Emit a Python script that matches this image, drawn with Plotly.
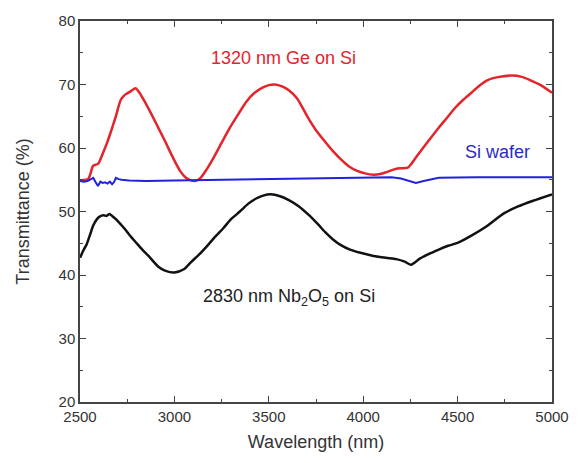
import plotly.graph_objects as go

# Wavelength grid (nm) and transmittance (%) for each sample
ge_wl = [2500, 2530, 2543, 2556, 2569, 2595, 2612, 2630, 2648, 2664, 2690, 2716, 2735, 2750, 2772, 2794,
         2815, 2837, 2870, 2906, 2950, 2992, 3030, 3061, 3087, 3110, 3139, 3170, 3208, 3250, 3294,
         3340, 3381, 3425, 3467, 3500, 3533, 3570, 3606, 3650, 3709, 3750, 3795, 3840, 3882, 3925, 3968,
         4010, 4054, 4090, 4123, 4160, 4192, 4236, 4255, 4279, 4340, 4400, 4445, 4486, 4530, 4573, 4615,
         4659, 4720, 4788, 4840, 4883, 4940, 5000]
ge_t = [54.9, 55.0, 55.1, 56.0, 57.2, 57.5, 58.5, 59.8, 61.2, 62.6, 65.0, 67.6, 68.3, 68.6, 69.0, 69.4,
        68.7, 67.6, 65.8, 63.7, 61.1, 58.5, 56.4, 55.3, 54.9, 54.8, 55.3, 56.6, 58.5, 60.8, 63.2,
        65.4, 67.3, 68.7, 69.5, 69.9, 70.0, 69.7, 69.1, 67.8, 64.7, 62.8, 61.1, 59.5, 58.2, 57.1, 56.4,
        56.0, 55.8, 55.9, 56.2, 56.6, 56.8, 56.9, 57.5, 58.5, 60.9, 63.2, 64.8, 66.3, 67.6, 68.7, 69.8,
        70.7, 71.2, 71.4, 71.2, 70.7, 69.9, 68.7]

si_wl = [2500, 2520, 2540, 2555, 2570, 2583, 2595, 2608, 2620, 2633, 2645, 2658, 2670, 2680, 2690,
         2705, 2720, 2760, 2850, 3000, 3200, 3500, 3800, 4000, 4150, 4200, 4240, 4279, 4320, 4400,
         4600, 4800, 5000]
si_t = [54.8, 54.7, 54.8, 55.1, 55.3, 54.6, 54.0, 54.7, 54.5, 54.6, 54.4, 54.7, 54.3, 54.6, 55.3,
        55.1, 55.0, 54.9, 54.8, 54.9, 55.0, 55.1, 55.2, 55.3, 55.4, 55.2, 54.8, 54.5, 54.8, 55.3,
        55.4, 55.4, 55.4]

nb_wl = [2500, 2520, 2535, 2555, 2570, 2590, 2604, 2625, 2640, 2656, 2670, 2690, 2715, 2742, 2762,
         2800, 2830, 2863, 2915, 2950, 3000, 3050, 3087, 3130, 3174, 3215, 3260, 3300, 3347, 3390,
         3433, 3470, 3510, 3560, 3606, 3660, 3710, 3760, 3800, 3840, 3882, 3930, 3985, 4054, 4120, 4175,
         4220, 4253, 4275, 4296, 4340, 4400, 4450, 4503, 4573, 4650, 4745, 4820, 4900, 5000]
nb_t = [42.7, 44.0, 44.8, 46.5, 47.8, 48.8, 49.2, 49.4, 49.3, 49.6, 49.3, 48.8, 48.0, 47.1, 46.3,
        45.0, 44.0, 43.0, 41.3, 40.7, 40.4, 40.9, 42.0, 43.2, 44.6, 46.0, 47.4, 48.8, 50.0, 51.2,
        52.05, 52.5, 52.7, 52.4, 51.8, 50.8, 49.5, 48.0, 46.7, 45.6, 44.7, 44.0, 43.5, 43.0, 42.7, 42.5,
        42.1, 41.6, 42.0, 42.5, 43.2, 44.0, 44.6, 45.1, 46.2, 47.6, 49.7, 50.8, 51.7, 52.7]

x_ticks = [2500, 3000, 3500, 4000, 4500, 5000]
y_ticks = [20, 30, 40, 50, 60, 70, 80]

FONT = "Liberation Sans, Arial, sans-serif"
AXIS_COLOR = "#444444"
TEXT_COLOR = "#333333"

fig = go.Figure()
fig.add_trace(go.Scatter(x=ge_wl, y=ge_t, mode="lines", line=dict(color="#e3242b", width=2.5,
                         shape="spline", smoothing=0.7), name="1320 nm Ge on Si"))
fig.add_trace(go.Scatter(x=si_wl, y=si_t, mode="lines", line=dict(color="#2222dd", width=2),
                         name="Si wafer"))
fig.add_trace(go.Scatter(x=nb_wl, y=nb_t, mode="lines", line=dict(color="#111111", width=2.5,
                         shape="spline", smoothing=0.7), name="2830 nm Nb2O5 on Si"))

fig.add_annotation(x=3578, y=74.2, text="1320 nm Ge on Si", showarrow=False,
                   font=dict(family=FONT, size=18, color="#e3242b"))
fig.add_annotation(x=4710, y=59.3, text="Si wafer", showarrow=False,
                   font=dict(family=FONT, size=18, color="#2a2ac4"))
fig.add_annotation(x=3609, y=36.5, text="2830 nm Nb<sub>2</sub>O<sub>5</sub> on Si", showarrow=False,
                   font=dict(family=FONT, size=18, color="#222222"))

axis_common = dict(showline=True, linecolor=AXIS_COLOR, linewidth=1.5, mirror="ticks",
                   ticks="inside", ticklen=6, tickwidth=1.3, tickcolor=AXIS_COLOR,
                   showgrid=False, zeroline=False,
                   tickfont=dict(family=FONT, size=15, color=TEXT_COLOR))
minor_common = dict(ticks="inside", ticklen=3, tickwidth=1.2, tickcolor=AXIS_COLOR)

fig.update_xaxes(range=[2500, 5000], tickvals=x_ticks, ticktext=[str(v) for v in x_ticks],
                 title=dict(text="Wavelength (nm)", font=dict(family=FONT, size=18, color=TEXT_COLOR),
                            standoff=12),
                 minor=dict(minor_common, dtick=250, tick0=2500), **axis_common)
fig.update_yaxes(range=[20, 80], tickvals=y_ticks, ticktext=[str(v) for v in y_ticks],
                 title=dict(text="Transmittance (%)", font=dict(family=FONT, size=18, color=TEXT_COLOR),
                            standoff=24),
                 minor=dict(minor_common, dtick=5, tick0=20), **axis_common)

fig.update_layout(width=581, height=463, margin=dict(l=80, r=18, t=15, b=61),
                  plot_bgcolor="white", paper_bgcolor="white", showlegend=False)

fig.write_html("out.html")
